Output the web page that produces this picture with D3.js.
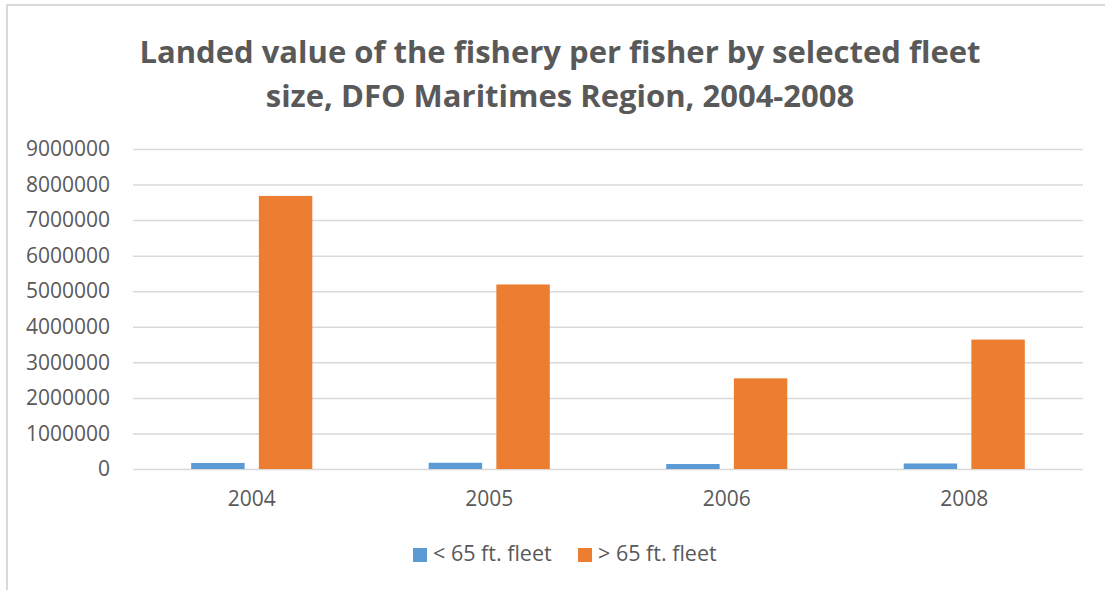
<!DOCTYPE html>
<html>
<head>
<meta charset="utf-8">
<script src="https://cdn.jsdelivr.net/npm/d3@7"></script>
<style>
  body { margin: 0; background: #fff; }
  svg text { font-family: "Open Sans", sans-serif; fill: #595959; }
</style>
</head>
<body>
<div id="chart"></div>
<script>
// chart data
const years = ["2004", "2005", "2006", "2008"];
const seriesNames = ["< 65 ft. fleet", "> 65 ft. fleet"];
const smallFleet = [170000, 175000, 140000, 155000];
const largeFleet = [7680000, 5190000, 2550000, 3640000];
const yTicks = [0, 1000000, 2000000, 3000000, 4000000, 5000000, 6000000, 7000000, 8000000, 9000000];
const titleLines = ["Landed value of the fishery per fisher by selected fleet",
                    "size, DFO Maritimes Region, 2004-2008"];
const colors = ["#5b9bd5", "#ed7d31"];

const width = 1105, height = 590;
const margin = {top: 149, right: 22, bottom: 120, left: 133};

const svg = d3.select("#chart").append("svg")
    .attr("width", width)
    .attr("height", height);

// outer frame (only top + left edges show in the picture)
svg.append("path")
    .attr("d", `M7,${height} L7,5 L${width},5`)
    .attr("fill", "none")
    .attr("stroke", "#d9d9d9")
    .attr("stroke-width", 2);

// title
svg.append("g").selectAll("text")
    .data(titleLines)
  .enter().append("text")
    .attr("x", 560)
    .attr("y", (d, i) => 63 + i * 44)
    .attr("text-anchor", "middle")
    .style("font-weight", "bold")
    .style("font-size", "31px")
    .text(d => d);

const x = d3.scaleBand()
    .domain(years)
    .range([margin.left, width - margin.right]);

const xInner = d3.scaleBand()
    .domain([0, 1])
    .range([0, x.bandwidth()])
    .paddingInner(0.21)
    .paddingOuter(0.86);

const y = d3.scaleLinear()
    .domain([0, 9000000])
    .range([height - margin.bottom - 1, margin.top]);

// gridlines + y labels
const yAxis = svg.append("g")
    .attr("transform", `translate(${margin.left},0)`)
    .call(d3.axisLeft(y)
        .tickValues(yTicks)
        .tickFormat(d3.format("d"))
        .tickSize(-(width - margin.left - margin.right))
        .tickPadding(23));
yAxis.select(".domain").remove();
yAxis.selectAll(".tick line")
    .attr("stroke", "#d9d9d9")
    .attr("stroke-width", 1.5);
yAxis.selectAll(".tick text")
    .style("font-size", "21px")
    .attr("fill", "#595959");

// bars
const series = [smallFleet, largeFleet];
series.forEach((vals, s) => {
    svg.append("g")
        .attr("fill", colors[s])
      .selectAll("rect")
        .data(vals)
      .enter().append("rect")
        .attr("x", (d, i) => x(years[i]) + xInner(s))
        .attr("width", xInner.bandwidth())
        .attr("y", d => y(d))
        .attr("height", d => y(0) - y(d));
});

// x labels
const xAxis = svg.append("g")
    .attr("transform", `translate(0,${y(0)})`)
    .call(d3.axisBottom(x).tickSize(0).tickPadding(22));
xAxis.select(".domain").remove();
xAxis.selectAll(".tick text")
    .style("font-size", "21px")
    .attr("fill", "#595959");

// legend
const legendPos = [413, 578];
const legend = svg.append("g")
    .selectAll("g")
    .data(seriesNames)
  .enter().append("g")
    .attr("transform", (d, i) => `translate(${legendPos[i]},548)`);
legend.append("rect")
    .attr("width", 14)
    .attr("height", 14)
    .attr("fill", (d, i) => colors[i]);
legend.append("text")
    .attr("x", 20)
    .attr("y", 13)
    .style("font-size", "21.5px")
    .text(d => d);
</script>
</body>
</html>
